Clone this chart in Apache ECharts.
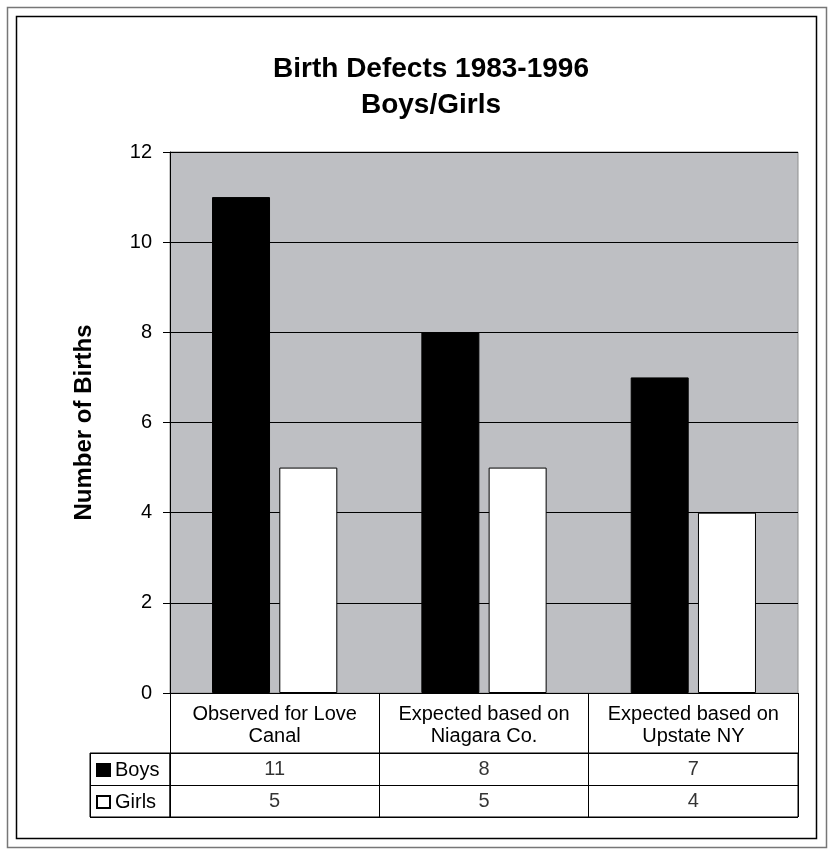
<!DOCTYPE html>
<html>
<head>
<meta charset="utf-8">
<title>Birth Defects 1983-1996</title>
<script src="https://cdn.jsdelivr.net/npm/echarts@6/dist/echarts.min.js"></script>
<style>
  html, body { margin: 0; padding: 0; background: #fff; }
  #chart { width: 830px; height: 850px; }
</style>
</head>
<body>
<div id="chart"></div>
<script>
// data
const categories = ['Observed for Love\nCanal', 'Expected based on\nNiagara Co.', 'Expected based on\nUpstate NY'];
const boys = [11, 8, 7];
const girls = [5, 5, 4];
const tableRows = ['Girls', 'Boys']; // bottom to top on the table's y axis
const yMin = 0;
const yMax = 12;
const yStep = 2;

const font = 'Liberation Sans, Arial, Helvetica, sans-serif';

const chart = echarts.init(document.getElementById('chart'));

// axis for the table grids, only the split lines are shown
const tableAxis = (gridIndex, data) => ({
  type: 'category',
  gridIndex: gridIndex,
  data: data,
  axisLine: { show: false },
  axisTick: { show: false },
  axisLabel: { show: false },
  splitLine: { show: true, lineStyle: { color: '#000', width: 1 } }
});

const tableSeries = (name, values) => ({
  type: 'scatter',
  name: name,
  xAxisIndex: 1,
  yAxisIndex: 1,
  symbolSize: 1,
  itemStyle: { color: 'transparent' },
  silent: true,
  data: values.map((v, i) => [i, name, v]),
  label: {
    show: true,
    position: 'inside',
    formatter: (p) => String(p.value[2]),
    fontFamily: font,
    fontSize: 20,
    color: '#000'
  }
});

const option = {
  animation: false,
  backgroundColor: '#fff',
  textStyle: { fontFamily: font },
  title: {
    text: 'Birth Defects 1983-1996\nBoys/Girls',
    left: 426,
    top: 46,
    textAlign: 'center',
    textStyle: {
      fontFamily: font,
      fontSize: 28,
      fontWeight: 'bold',
      lineHeight: 36,
      color: '#000'
    }
  },
  legend: {
    orient: 'vertical',
    left: 96,
    top: 760,
    padding: 0,
    icon: 'rect',
    itemWidth: 13,
    itemHeight: 12,
    itemGap: 12,
    selectedMode: false,
    data: ['Boys', 'Girls'],
    textStyle: { fontFamily: font, fontSize: 20, lineHeight: 20, color: '#000' }
  },
  grid: [
    // plot
    { left: 170, right: 32, top: 152, bottom: 157, show: true, backgroundColor: '#bebfc3', borderColor: '#8e8e8e', borderWidth: 1 },
    // data table values
    { left: 170, right: 32, top: 753, height: 64, show: true, borderColor: '#000', borderWidth: 1 },
    // data table legend column
    { left: 90, width: 80, top: 753, height: 64, show: true, borderColor: '#000', borderWidth: 1 }
  ],
  xAxis: [
    {
      type: 'category',
      gridIndex: 0,
      data: categories,
      axisLine: { lineStyle: { color: '#000', width: 1 } },
      axisTick: { show: true, length: 60, lineStyle: { color: '#000' } },
      axisLabel: { fontFamily: font, fontSize: 20, lineHeight: 22, color: '#000', margin: 10, interval: 0 },
      splitLine: { show: false }
    },
    tableAxis(1, categories),
    tableAxis(2, [''])
  ],
  yAxis: [
    {
      type: 'value',
      gridIndex: 0,
      min: yMin,
      max: yMax,
      interval: yStep,
      name: 'Number of Births',
      nameLocation: 'middle',
      nameGap: 74,
      nameTextStyle: { fontFamily: font, fontSize: 24, fontWeight: 'bold', color: '#000' },
      axisLine: { show: true, lineStyle: { color: '#000', width: 1 } },
      axisTick: { show: true, length: 7, lineStyle: { color: '#000' } },
      axisLabel: { fontFamily: font, fontSize: 20, color: '#000', margin: 18 },
      splitLine: { show: true, lineStyle: { color: '#000', width: 1 } }
    },
    tableAxis(1, tableRows),
    tableAxis(2, tableRows)
  ],
  graphic: [
    { type: 'rect', silent: true, shape: { x: 7.5, y: 7.5, width: 819, height: 840 }, style: { fill: 'none', stroke: '#777', lineWidth: 1.5 } },
    { type: 'rect', silent: true, shape: { x: 16.5, y: 16.5, width: 800, height: 822 }, style: { fill: 'none', stroke: '#000', lineWidth: 1.5 } }
  ],
  series: [
    {
      type: 'bar',
      name: 'Boys',
      data: boys,
      barWidth: 58,
      barGap: '16%',
      itemStyle: { color: '#000', borderColor: '#000', borderWidth: 1 }
    },
    {
      type: 'bar',
      name: 'Girls',
      data: girls,
      barWidth: 58,
      itemStyle: { color: '#fff', borderColor: '#000', borderWidth: 1 }
    },
    tableSeries('Boys', boys),
    tableSeries('Girls', girls)
  ]
};

chart.setOption(option);
</script>
</body>
</html>
